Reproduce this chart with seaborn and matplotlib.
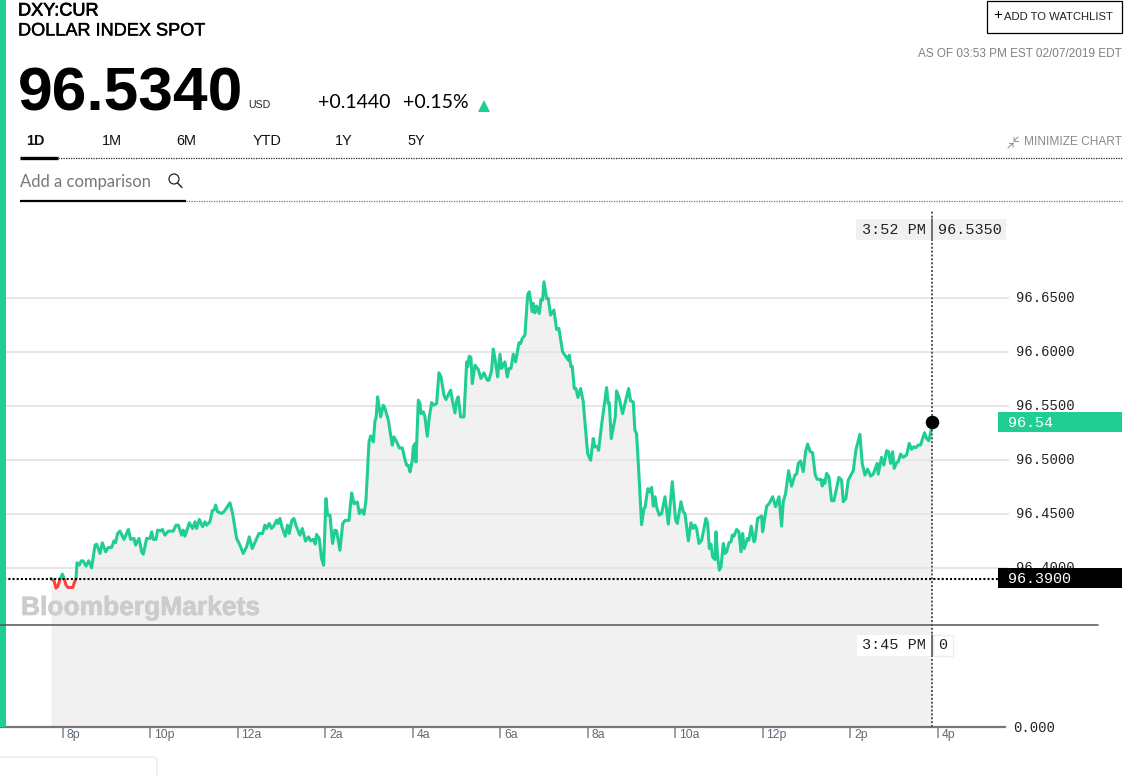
#!/usr/bin/env python3

"""
Dollar index spot, one day chart. Time is in minutes after 8p.
"""

import matplotlib
matplotlib.use('Agg')
import matplotlib.pyplot as plt
import matplotlib.patheffects as pe
from matplotlib.patches import Circle, FancyBboxPatch, Rectangle
from matplotlib.transforms import ScaledTranslation
import seaborn as sns

# -----------------------------------------------------------------------------
# Data
# -----------------------------------------------------------------------------
minutes = [
    -16.5, -12.3, -9.6, -6.9, -4.1, -0.9, 2.3, 4.1, 6.9, 13.3, 16.0, 17.8,
    19.2, 22.4, 25.1, 27.9, 31.5, 35.2, 39.3, 43.9, 46.2, 50.7, 53.9, 58.5,
    62.2, 66.7, 69.9, 72.2, 74.9, 78.1, 83.6, 89.6, 92.8, 97.3, 99.6, 104.2,
    107.9, 110.1, 114.7, 119.3, 121.6, 123.8, 127.5, 129.8, 133.9, 136.2,
    139.8, 144.4, 151.3, 154.9, 158.1, 162.7, 165.0, 167.3, 173.2, 177.8,
    181.0, 183.3, 186.9, 191.5, 194.7, 197.0, 201.5, 204.7, 207.5, 209.3,
    212.0, 217.5, 220.7, 229.0, 232.6, 238.1, 242.7, 247.2, 251.8, 255.5,
    259.6, 268.7, 273.7, 276.9, 279.2, 282.9, 286.1, 289.7, 292.9, 294.8,
    297.5, 300.2, 304.8, 308.0, 310.3, 313.9, 316.7, 319.4, 324.9, 328.1,
    332.7, 336.8, 339.6, 343.2, 346.0, 347.8, 351.4, 354.6, 357.4, 360.6,
    362.9, 366.1, 369.7, 372.9, 375.2, 379.8,
    383.6, 386.8, 392.2, 395.9, 399.1, 403.7, 406.4, 409.6, 412.8, 415.5,
    419.7, 421.9, 425.6, 427.9, 429.3, 431.5, 435.7, 439.3, 441.6, 446.2,
    451.6, 453.9, 457.6, 461.2, 465.4, 468.1, 471.3, 473.6, 475.9, 479.1,
    480.4, 482.7, 484.1, 487.3, 489.6, 491.0, 494.2, 496.4, 499.6, 502.4,
    505.6, 507.9, 512.4, 515.6, 518.4, 522.5, 525.2, 531.6, 534.4, 537.6,
    539.9, 542.1, 545.3, 549.9, 553.6, 554.9, 557.2, 559.5, 561.3, 565.0,
    569.6, 573.2, 577.3, 581.9, 584.2, 587.8, 590.1, 592.4, 596.1, 599.3,
    601.5, 606.1, 609.3, 611.6, 614.3, 617.5, 620.7, 625.3, 627.6, 629.9,
    633.5, 637.2, 639.5, 643.6, 645.0, 647.2, 649.5, 653.2, 655.5, 657.8,
    659.6, 663.2, 665.5, 668.7, 673.3, 676.9, 680.1, 685.2, 693.0, 694.3,
    696.6, 698.4, 701.2, 703.5, 706.2, 709.9, 713.5, 719.5, 723.6, 727.2,
    729.5, 732.7, 734.5, 738.6, 745.5, 747.8, 749.2, 751.9, 757.4, 759.2,
    762.9, 767.4, 775.7, 778.4, 782.1, 784.3, 786.6, 789.8, 793.5, 796.7,
    798.1, 802.2, 804.9,
    807.3, 809.6, 811.9, 814.2, 817.8, 821.0, 825.6, 830.2, 835.6, 840.2,
    842.5, 847.5, 850.7, 853.0, 857.6, 861.2, 864.4, 866.7, 869.0, 872.2,
    875.9, 881.8, 884.1, 886.4, 888.6, 890.9, 894.1, 895.5, 897.8, 900.1,
    902.4, 905.6, 907.8, 910.1, 913.3, 916.1, 917.9, 920.2, 923.8, 927.0,
    929.8, 932.1, 934.3, 938.5, 940.7, 943.9, 947.6, 949.0, 952.6, 958.1,
    959.5, 965.0, 968.6, 973.2, 977.3, 981.9, 985.5, 987.8, 991.0, 995.1,
    999.2, 1003.8, 1006.1, 1008.4, 1011.6, 1015.2, 1018.4, 1021.2, 1024.8,
    1028.0, 1031.7, 1034.4, 1039.0, 1041.3, 1042.7, 1044.9, 1047.2, 1050.4,
    1054.1, 1057.3, 1064.1, 1067.8, 1070.1, 1073.7, 1076.9, 1083.8, 1087.4,
    1092.9, 1096.1, 1099.8, 1103.4, 1107.6, 1111.2, 1116.7, 1118.1, 1122.6,
    1125.8, 1129.5, 1132.2, 1135.0, 1137.7, 1140.0, 1143.2, 1145.5, 1148.7,
    1152.3, 1156.9, 1160.6, 1163.8, 1167.0, 1169.7, 1172.9, 1176.1, 1181.6,
    1184.3, 1187.5, 1191.2,
]
prices = [
    96.3904, 96.3882, 96.3814, 96.3833, 96.3895, 96.3944, 96.3888, 96.3842,
    96.3820, 96.3820, 96.3873, 96.3904, 96.4049, 96.4027, 96.4067, 96.4064,
    96.4018, 96.4067, 96.4002, 96.4212, 96.4221, 96.4135, 96.4234, 96.4150,
    96.4191, 96.4191, 96.4252, 96.4234, 96.4320, 96.4342, 96.4265, 96.4357,
    96.4265, 96.4274, 96.4212, 96.4274, 96.4150, 96.4128, 96.4274, 96.4274,
    96.4335, 96.4265, 96.4265, 96.4351, 96.4345, 96.4357, 96.4304, 96.4342,
    96.4342, 96.4397, 96.4397, 96.4304, 96.4351, 96.4295, 96.4419, 96.4366,
    96.4428, 96.4366, 96.4450, 96.4382, 96.4428, 96.4397, 96.4428, 96.4530,
    96.4542, 96.4583, 96.4521, 96.4505, 96.4521, 96.4604, 96.4505, 96.4274,
    96.4212, 96.4135, 96.4196, 96.4289, 96.4181, 96.4320, 96.4320, 96.4397,
    96.4366, 96.4413, 96.4366, 96.4397, 96.4443, 96.4413, 96.4459, 96.4382,
    96.4295, 96.4397, 96.4320, 96.4443, 96.4459, 96.4397, 96.4304, 96.4366,
    96.4249, 96.4289, 96.4252, 96.4265, 96.4221, 96.4311, 96.4274, 96.4088,
    96.4026, 96.4644, 96.4490, 96.4490, 96.4227, 96.4351, 96.4345, 96.4165,
    96.4411, 96.4441, 96.4441, 96.4695, 96.4596, 96.4611, 96.4503, 96.4540,
    96.4497, 96.4627, 96.5168, 96.5223, 96.5168, 96.5368, 96.5384, 96.5585,
    96.5399, 96.5508, 96.5477, 96.5368, 96.5137, 96.5214, 96.5168, 96.5112,
    96.5112, 96.5029, 96.4951, 96.4951, 96.4890, 96.4998, 96.5121, 96.5152,
    96.4982, 96.5554, 96.5523, 96.5430, 96.5446, 96.5399, 96.5220, 96.5399,
    96.5532, 96.5508, 96.5523, 96.5807, 96.5770, 96.5600, 96.5560, 96.5647,
    96.5538, 96.5436, 96.5554, 96.5585, 96.5399, 96.5399, 96.5909, 96.5863,
    96.5962, 96.5949, 96.5708, 96.5878, 96.5838, 96.5755, 96.5807, 96.5739,
    96.5739, 96.5832, 96.6027, 96.5940, 96.5770, 96.5980, 96.5847, 96.5909,
    96.5770, 96.5847, 96.5847, 96.5980, 96.5909, 96.6085, 96.6079, 96.6126,
    96.6156, 96.6527, 96.6558, 96.6373, 96.6450, 96.6363, 96.6425, 96.6357,
    96.6487, 96.6481, 96.6651, 96.6496, 96.6496, 96.6342, 96.6388, 96.6209,
    96.6218, 96.6002, 96.5925, 96.5971, 96.5863, 96.5869, 96.5662, 96.5662,
    96.5579, 96.5662, 96.5538, 96.5059, 96.4998, 96.5199, 96.5121, 96.5127,
    96.5090, 96.5322, 96.5671, 96.5523, 96.5529, 96.5199, 96.5399, 96.5640,
    96.5569, 96.5430, 96.5662, 96.5548, 96.5538, 96.5276, 96.5245, 96.4874,
    96.4401, 96.4550, 96.4559, 96.4735, 96.4704,
    96.4746, 96.4573, 96.4660, 96.4561, 96.4490, 96.4505, 96.4660, 96.4407,
    96.4799, 96.4444, 96.4413, 96.4614, 96.4521, 96.4505, 96.4252, 96.4419,
    96.4366, 96.4397, 96.4366, 96.4227, 96.4258, 96.4459, 96.4413, 96.4181,
    96.4221, 96.4104, 96.4079, 96.4335, 96.4104, 96.3980, 96.4011, 96.4227,
    96.4135, 96.4150, 96.4233, 96.4243, 96.4305, 96.4295, 96.4357, 96.4335,
    96.4150, 96.4320, 96.4181, 96.4274, 96.4258, 96.4388, 96.4243, 96.4258,
    96.4459, 96.4481, 96.4335, 96.4573, 96.4598, 96.4660, 96.4567, 96.4660,
    96.4388, 96.4614, 96.4691, 96.4901, 96.4759, 96.4861, 96.4870, 96.4969,
    96.4991, 96.4892, 96.5077, 96.5148, 96.5077, 96.5068, 96.4861, 96.4821,
    96.4821, 96.4759, 96.4814, 96.4784, 96.4876, 96.4845, 96.4623, 96.4623,
    96.4839, 96.4814, 96.4614, 96.4644, 96.4814, 96.4901, 96.5092, 96.5238,
    96.4969, 96.4861, 96.4916, 96.4851, 96.4870, 96.4969, 96.4870, 96.5025,
    96.4953, 96.5086, 96.5077, 96.4969, 96.5077, 96.4923, 96.4975, 96.4984,
    96.5055, 96.5025, 96.5046, 96.5154, 96.5099, 96.5123, 96.5114, 96.5139,
    96.5139, 96.5253, 96.5201, 96.5179, 96.5293,
]
prev_close = 96.39
last_price = 96.535
time_ticks = [0, 120, 240, 360, 480, 600, 720, 840, 960, 1080, 1200]
time_labels = ['8p', '10p', '12a', '2a', '4a', '6a', '8a', '10a', '12p', '2p', '4p']
price_ticks = [96.40, 96.45, 96.50, 96.55, 96.60, 96.65]
price_labels = ['96.4000', '96.4500', '96.5000', '96.5500', '96.6000', '96.6500']
tabs = ['1D', '1M', '6M', 'YTD', '1Y', '5Y']

GREEN = '#20CE93'
RED = '#F9423A'
SANS = 'Liberation Sans'
MONO = 'Liberation Mono'
W, H = 1148, 776

sns.set_theme(style='white')
plt.rcParams['font.family'] = [SANS, 'DejaVu Sans']

fig = plt.figure(figsize=(W / 100, H / 100), dpi=100)

# Chart area: 210 to 727 px down, 0 to 1009 px across
ax = fig.add_axes([0, (H - 727) / H, 1009 / W, (727 - 210) / H])
ax.set_xlim(-86.4, 1297.4)
ax.set_ylim(96.2528, 96.7315)

ax.fill_between(minutes, prices, 96.2528, color='#F1F1F1', lw=0, zorder=1)
sns.lineplot(x=minutes, y=prices, color=GREEN, lw=2.2, sort=False,
             estimator=None, ax=ax)
ax.lines[-1].set_clip_path(Rectangle((-86.4, prev_close), 1400, 1,
                                     transform=ax.transData))
sns.lineplot(x=minutes, y=prices, color=RED, lw=2.2, sort=False,
             estimator=None, ax=ax)
ax.lines[-1].set_clip_path(Rectangle((-86.4, 96), 1400, prev_close - 96,
                                     transform=ax.transData))

ax.axhline(prev_close, color='black', lw=1.5, ls=(0, (1, 1)), zorder=3)
ax.axvline(minutes[-1], color='#555555', lw=1.4, ls=(0, (1, 1)), zorder=3)
sns.scatterplot(x=[minutes[-1]], y=[last_price], color='black', s=95,
                linewidth=0, ax=ax, zorder=4)

ax.set_xticks(time_ticks)
ax.set_xticklabels(time_labels)
ax.set_yticks(price_ticks)
ax.set_yticklabels(price_labels)
ax.yaxis.tick_right()
ax.grid(axis='y', color='#E4E4E4', lw=1.3)
ax.set_axisbelow('line')
ax.tick_params(axis='y', length=0, pad=5, labelsize=10, labelcolor='#222222',
               labelfontfamily=MONO)
ax.tick_params(axis='x', bottom=True, length=8, width=1.3, color='#999999',
               pad=-6.5, labelsize=8.8, labelcolor='#5F6B78')
for lab in ax.get_xticklabels():
    lab.set_ha('left')
    lab.set_transform(lab.get_transform()
                      + ScaledTranslation(3.5 / 100, 0, fig.dpi_scale_trans))
for lab in ax.get_yticklabels():
    lab.set_transform(lab.get_transform()
                      + ScaledTranslation(0, 1.8 / 100, fig.dpi_scale_trans))
for side in ['top', 'left', 'right']:
    ax.spines[side].set_visible(False)
ax.spines['bottom'].set_color('#777777')
ax.spines['bottom'].set_linewidth(1.6)
ax.spines['bottom'].set_bounds(-86.4, 1292)

# Page furniture on top of the chart, in pixels
ui = fig.add_axes([0, 0, 1, 1], facecolor='none')
ui.set_xlim(0, W)
ui.set_ylim(H, 0)
ui.axis('off')


def label(x, y, text, size, color='black', ha='left', weight='normal',
          family=SANS, heavy=0, **kw):
    t = ui.text(x, y, text, fontsize=size, color=color, ha=ha, va='center',
                fontweight=weight, family=family, **kw)
    if heavy:
        t.set_path_effects([pe.withStroke(linewidth=heavy, foreground=color)])


def box(x0, y0, x1, y1, face, edge='none', lw=0):
    ui.add_patch(Rectangle((x0, y0), x1 - x0, y1 - y0, facecolor=face,
                           edgecolor=edge, lw=lw))


box(0, 0, 6, 727, GREEN)

label(18, 11, 'DXY:CUR', 13.05, heavy=0.5)
label(18, 31, 'DOLLAR INDEX SPOT', 13.05, heavy=0.3)
label(18, 95, '96.5340', 44.9, weight='bold')
label(248, 105, 'USD', 7.6, color='#222222')
label(318, 102, '+0.1440', 14, family='Lato')
label(403, 102, '+0.15%', 14, family='Lato')
ui.plot([484], [106], marker='^', ms=8, color=GREEN, mew=0)

for name, x in zip(tabs, [35, 112, 186, 267, 344, 416]):
    label(x, 141, name, 10.4, ha='center',
          weight='bold' if name == '1D' else 'normal', color='#111111')
ui.plot([20, 58], [157.5, 157.5], color='black', lw=2.4, solid_capstyle='butt')
ui.plot([58, 1122], [157.5, 157.5], color='#222222', lw=0.9, ls=(0, (1, 1)))
label(20, 182, 'Add a comparison', 12, color='#77777C', family='Lato')
ui.add_patch(Circle((174, 179), 5, fill=False, ec='#222222', lw=0.9))
ui.plot([177.5, 182], [183, 187.5], color='#222222', lw=1)
ui.plot([20, 186], [201, 201], color='black', lw=1.6, solid_capstyle='butt')
ui.plot([186, 1122], [201, 201], color='#777777', lw=0.9, ls=(0, (1, 1)))

box(986.5, 0.5, 1122, 33, 'white', 'black', 0.9)
label(993, 15, '+', 11)
label(1113, 17, 'ADD TO WATCHLIST', 8.15, ha='right', color='#222222')
label(1122, 54, 'AS OF 03:53 PM EST 02/07/2019 EDT', 8.5, ha='right',
      color='#808080')
label(1122, 142, 'MINIMIZE CHART', 8.6, ha='right', color='#8A8A8A')
# two little arrows of the minimize icon
ui.plot([1008, 1013, 1013], [148, 143, 147], color='#999999', lw=0.8)
ui.plot([1009, 1013], [143, 143], color='#999999', lw=0.8)
ui.plot([1018, 1014, 1014], [137, 141, 137.5], color='#999999', lw=0.8)
ui.plot([1014, 1018], [141, 141], color='#999999', lw=0.8)

# Tooltips and value badges
box(856, 219, 1006, 240, '#F1F1F1')
ui.plot([932, 932], [219, 240], color='#666666', lw=1.3)
label(862, 230, '3:52 PM', 10.9, family=MONO, color='#222222')
label(938, 230, '96.5350', 10.9, family=MONO, color='#222222')

ui.plot([0, 1098], [625, 625], color='#555555', lw=1.1)
box(933, 635, 953, 656, 'white', '#EEEEEE', 1)
box(857, 635, 932, 656, 'white')
ui.plot([932, 932], [635, 656], color='#666666', lw=1.3)
label(862, 645, '3:45 PM', 10.9, family=MONO, color='#222222')
label(938, 645, '0', 10.9, family=MONO, color='#222222')

box(998, 412, 1122, 432, GREEN)
label(1008, 423, '96.54', 10.8, color='white', family=MONO)
box(998, 568, 1122, 588, 'black')
label(1008, 579, '96.3900', 10.8, color='white', family=MONO)
label(1013, 728, '0.000', 10, family=MONO, color='#222222')

label(21, 608, 'BloombergMarkets', 19, color='#CCCCCC', weight='bold', heavy=0.5)

ui.add_patch(FancyBboxPatch((-10, 757), 167, 40, boxstyle='round,pad=0,rounding_size=4',
                            facecolor='white', edgecolor='#E4E4E4', lw=0.8))

fig.savefig('out.png', dpi=100)
